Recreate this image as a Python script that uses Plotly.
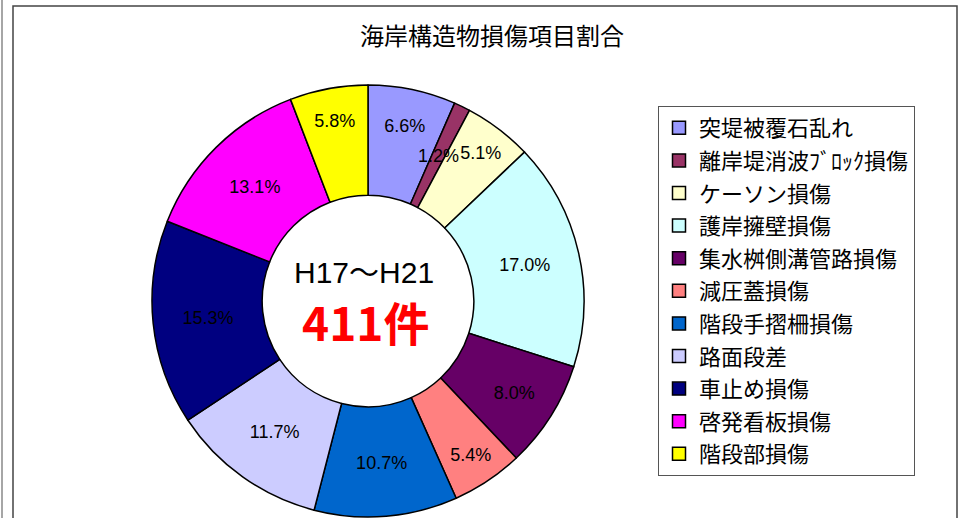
import math

import plotly.graph_objects as go

title = "海岸構造物損傷項目割合"
labels = [
    "突堤被覆石乱れ", "離岸堤消波ﾌﾞﾛｯｸ損傷", "ケーソン損傷", "護岸擁壁損傷",
    "集水桝側溝管路損傷", "減圧蓋損傷", "階段手摺柵損傷", "路面段差",
    "車止め損傷", "啓発看板損傷", "階段部損傷",
]
counts = [27, 5, 21, 70, 33, 22, 44, 48, 63, 54, 24]
colors = [
    "#9999FF", "#993366", "#FFFFCC", "#CCFFFF", "#660066", "#FF8080",
    "#0066CC", "#CCCCFF", "#000080", "#FF00FF", "#FFFF00",
]
period = "H17～H21"
total = sum(counts)
total_label = f"{total}件"

W, H = 968, 518
jp = "Noto Sans CJK JP, sans-serif"
pct_font = dict(color="black", size=18,
                family="Liberation Sans Narrow, Arial Narrow, Liberation Sans, sans-serif")

# pie geometry (pixels)
cx, cy, r_out, hole = 368, 301, 216, 0.49

# the thin slice gets its label on the ring centre line, overflowing, as in the original
small = 1
texts = [f"{c / total:.1%}" for c in counts]
texts_in = [t if i != small else "" for i, t in enumerate(texts)]

fig = go.Figure()

fig.add_trace(go.Pie(
    labels=labels, values=counts, sort=False, direction="clockwise",
    rotation=0, hole=hole,
    marker=dict(colors=colors, line=dict(color="black", width=1.5)),
    text=texts_in, textinfo="text",
    textposition="inside", insidetextorientation="horizontal",
    textfont=pct_font,
    domain=dict(x=[(cx - r_out) / W, (cx + r_out) / W], y=[1 - (cy + r_out) / H, 1 - (cy - r_out) / H]),
    showlegend=False, hoverinfo="label+value+percent",
))

mid = (sum(counts[:small]) + counts[small] / 2) / total * 2 * math.pi
r_mid = r_out * (1 + hole) / 2
fig.add_annotation(x=(cx + r_mid * math.sin(mid)) / W, y=1 - (cy - r_mid * math.cos(mid)) / H,
                   xref="paper", yref="paper", xanchor="center", yanchor="middle",
                   text=texts[small], showarrow=False, font=pct_font)

# legend entries as separate groups so the row spacing matches the original
for i, (lab, col) in enumerate(zip(labels, colors)):
    fig.add_trace(go.Scatter(
        x=[None], y=[None], mode="markers", name=lab, legendgroup=f"g{i}",
        marker=dict(symbol="square", size=13, color=col, line=dict(color="black", width=1.5)),
        hoverinfo="skip",
    ))

fig.add_annotation(x=364 / W, y=1 - 272 / H, xref="paper", yref="paper",
                   text=period, showarrow=False,
                   font=dict(size=30, color="black",
                             family="Liberation Sans, Noto Sans CJK JP, sans-serif"))
fig.add_annotation(x=365 / W, y=1 - 321 / H, xref="paper", yref="paper",
                   text=f"<b>{total_label}</b>", showarrow=False,
                   font=dict(size=46, color="#FF0000", family=jp))

# outer frame lines
fig.add_shape(type="rect", xref="paper", yref="paper",
              x0=13 / W, x1=957 / W, y0=-0.05, y1=1 - 6 / H,
              line=dict(color="#444444", width=1.5), layer="below")
fig.add_shape(type="line", xref="paper", yref="paper",
              x0=2 / W, x1=2 / W, y0=-0.05, y1=1.05,
              line=dict(color="#888888", width=1.5), layer="below")

fig.update_xaxes(visible=False)
fig.update_yaxes(visible=False)
fig.update_layout(
    width=W, height=H,
    margin=dict(l=0, r=0, t=0, b=0),
    paper_bgcolor="white", plot_bgcolor="white",
    uniformtext=dict(minsize=18, mode="show"),
    title=dict(text=title, x=492 / W, y=1 - 37 / H, xanchor="center", yanchor="middle",
               font=dict(size=24, color="black", family=jp)),
    legend=dict(x=658 / W, y=1 - 106 / H, xanchor="left", yanchor="top",
                bgcolor="white", bordercolor="#555555", borderwidth=1,
                font=dict(size=22, color="black", family=jp),
                tracegroupgap=1, itemclick=False),
)

fig.write_html("out.html", config={"displayModeBar": False},
               post_script="document.body.style.margin='0';")
